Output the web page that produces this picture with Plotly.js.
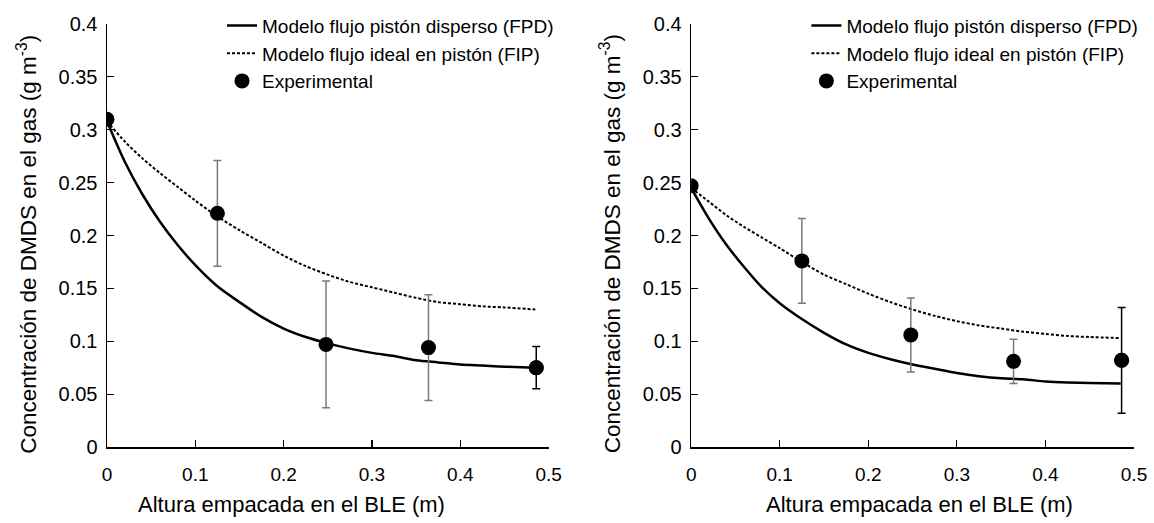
<!DOCTYPE html>
<html>
<head>
<meta charset="utf-8">
<script src="https://cdn.plot.ly/plotly-3.0.1.min.js"></script>
<style>html,body{margin:0;padding:0;background:#fff;}#chart{width:1154px;height:523px;}</style>
</head>
<body>
<div id="chart"></div>
<script>
// Model grid (packed height, m)
const modelX = [0, 0.02, 0.04, 0.06, 0.08, 0.10, 0.125, 0.15, 0.175, 0.20, 0.225, 0.25, 0.275, 0.30, 0.325, 0.35, 0.375, 0.40, 0.425, 0.45, 0.485];
// Left panel
const leftFPD = [0.308, 0.270, 0.239, 0.213, 0.191, 0.172, 0.152, 0.137, 0.123, 0.112, 0.104, 0.098, 0.093, 0.089, 0.086, 0.082, 0.080, 0.078, 0.077, 0.076, 0.075];
const leftFIP = [0.308, 0.289, 0.273, 0.259, 0.246, 0.233, 0.218, 0.205, 0.193, 0.181, 0.171, 0.163, 0.156, 0.151, 0.146, 0.141, 0.137, 0.135, 0.133, 0.132, 0.130];
const expX = [0, 0.125, 0.248, 0.364, 0.486];
const leftExp = [0.310, 0.221, 0.097, 0.094, 0.075];
const leftErr = [0, 0.050, 0.060, 0.050, 0.020];
// Right panel
const rightFPD = [0.245, 0.216, 0.191, 0.170, 0.151, 0.136, 0.121, 0.108, 0.097, 0.089, 0.083, 0.078, 0.074, 0.070, 0.067, 0.065, 0.064, 0.062, 0.061, 0.0605, 0.060];
const rightFIP = [0.245, 0.232, 0.219, 0.208, 0.198, 0.188, 0.175, 0.163, 0.154, 0.145, 0.137, 0.130, 0.124, 0.119, 0.115, 0.112, 0.109, 0.107, 0.105, 0.104, 0.103];
const rightExp = [0.247, 0.176, 0.106, 0.081, 0.082];
const rightErr = [0, 0.040, 0.035, 0.021, 0.050];

const names = ['Modelo flujo pistón disperso (FPD)', 'Modelo flujo ideal en pistón (FIP)', 'Experimental'];
const yTitle = 'Concentración de DMDS en el gas (g m<sup>-3</sup>)';
const xTitle = 'Altura empacada en el BLE (m)';

function panel(fpd, fip, ex, err, xa, ya, leg) {
  const n = ex.length;
  const errMain = err.map((e, i) => i === n - 1 ? 0 : e);
  return [
    {x: modelX, y: fpd, type: 'scatter', mode: 'lines', name: names[0], xaxis: xa, yaxis: ya, legend: leg,
     line: {color: '#000', width: 2.5, shape: 'spline', smoothing: 0.8}},
    {x: modelX, y: fip, type: 'scatter', mode: 'lines', name: names[1], xaxis: xa, yaxis: ya, legend: leg,
     line: {color: '#000', width: 2, dash: '3px,2px', shape: 'spline', smoothing: 0.8}},
    {x: expX, y: ex, type: 'scatter', mode: 'markers', name: names[2], xaxis: xa, yaxis: ya, legend: leg,
     marker: {color: '#000', size: 15},
     error_y: {type: 'data', array: errMain, visible: true, color: '#7a7a7a', thickness: 1.5, width: 4}},
    {x: [expX[n - 1]], y: [ex[n - 1]], type: 'scatter', mode: 'markers', showlegend: false, xaxis: xa, yaxis: ya,
     marker: {color: '#000', size: 15}, hoverinfo: 'skip',
     error_y: {type: 'data', array: [err[n - 1]], visible: true, color: '#000', thickness: 1.5, width: 4}}
  ];
}

const data = [].concat(
  panel(leftFPD, leftFIP, leftExp, leftErr, 'x', 'y', 'legend'),
  panel(rightFPD, rightFIP, rightExp, rightErr, 'x2', 'y2', 'legend2')
);

const font = {family: 'Liberation Sans, Arial, sans-serif', color: '#000'};
const xBase = {range: [0, 0.5], dtick: 0.1, tick0: 0, showline: true, linecolor: '#000', linewidth: 1.5,
  ticks: 'inside', ticklen: 7, tickwidth: 1.2, tickcolor: '#000', showgrid: false, zeroline: false,
  tickfont: {size: 19}, ticklabelstandoff: 10, fixedrange: true};
const yBase = {range: [0, 0.4], dtick: 0.05, tick0: 0, showline: true, linecolor: '#000', linewidth: 1.5,
  ticks: 'inside', ticklen: 7, tickwidth: 1.2, tickcolor: '#000', showgrid: false, zeroline: false,
  tickfont: {size: 20}, ticklabelstandoff: 4, fixedrange: true};
const legBase = {font: {size: 19}, bgcolor: 'rgba(0,0,0,0)', yanchor: 'top', xanchor: 'left', tracegroupgap: 0, itemwidth: 30};

const layout = {
  width: 1154, height: 523,
  margin: {l: 107, r: 20, t: 24, b: 76, autoexpand: false},
  paper_bgcolor: '#fff', plot_bgcolor: '#fff',
  font: font,
  showlegend: true,
  xaxis: Object.assign({}, xBase, {domain: [0, 0.43], anchor: 'y'}),
  yaxis: Object.assign({}, yBase, {domain: [0, 1], anchor: 'x'}),
  xaxis2: Object.assign({}, xBase, {domain: [0.5688, 1], anchor: 'y2'}),
  yaxis2: Object.assign({}, yBase, {domain: [0, 1], anchor: 'x2'}),
  legend: Object.assign({}, legBase, {x: 0.112, y: 1.041}),
  legend2: Object.assign({}, legBase, {x: 0.681, y: 1.041}),
  annotations: [
    {text: yTitle, xref: 'paper', yref: 'paper', x: -0.078, y: 0.48, textangle: -90, showarrow: false,
     xanchor: 'center', yanchor: 'middle', font: {size: 22.5}},
    {text: yTitle, xref: 'paper', yref: 'paper', x: 0.49, y: 0.48, textangle: -90, showarrow: false,
     xanchor: 'center', yanchor: 'middle', font: {size: 22.5}},
    {text: xTitle, xref: 'paper', yref: 'paper', x: 0.180, y: -0.136, showarrow: false,
     xanchor: 'center', yanchor: 'middle', font: {size: 22}},
    {text: xTitle, xref: 'paper', yref: 'paper', x: 0.7914, y: -0.136, showarrow: false,
     xanchor: 'center', yanchor: 'middle', font: {size: 22}}
  ]
};

Plotly.newPlot('chart', data, layout, {displayModeBar: false, staticPlot: true});
</script>
</body>
</html>
